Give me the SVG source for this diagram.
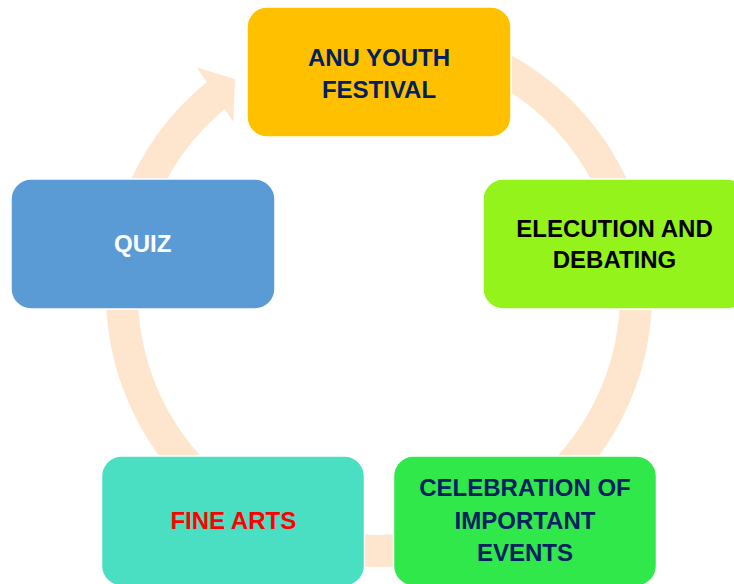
<svg xmlns="http://www.w3.org/2000/svg" width="734" height="584" viewBox="0 0 734 584">
<style>
.arc{fill:none;stroke:#FDE6CD;stroke-width:32;stroke-linecap:butt}
.head{fill:#FDE6CD;stroke:none}
.box{stroke:#FFFFFF;stroke-width:1.5}
.t{font-family:"Liberation Sans",Arial,sans-serif;font-weight:bold;font-size:24px;text-anchor:middle}
</style>
<rect width="734" height="584" fill="#FFFFFF"/>
<g id="connectors">
<path class="arc" d="M487.6 61.1 A257 257 0 0 1 620.5 206.1"/>
<path class="arc" d="M636 294 A257 257 0 0 1 560.7 475.7"/>
<path class="arc" d="M423.6 547.1 A257 257 0 0 1 334.4 547.1"/>
<path class="arc" d="M197.3 475.7 A257 257 0 0 1 123 271.6"/>
<path class="arc" d="M137.5 206.1 A257 257 0 0 1 217.3 94.3"/>
<polygon class="head" points="196.7,67.3 235,79.3 233.3,121.7"/>
</g>
<g id="node-anu-youth-festival">
<rect class="box" x="247" y="7" width="264" height="130" rx="20" fill="#FFC000"/>
<text class="t" fill="#002060" x="379" y="65.7">ANU YOUTH</text>
<text class="t" fill="#002060" x="379" y="97.7">FESTIVAL</text>
</g>
<g id="node-elecution-debating">
<rect class="box" x="483" y="179" width="264" height="130" rx="20" fill="#94F31B"/>
<text class="t" fill="#000000" x="614.5" y="236.7">ELECUTION AND</text>
<text class="t" fill="#000000" x="614.5" y="268.3">DEBATING</text>
</g>
<g id="node-celebration">
<rect class="box" x="393.5" y="456" width="263" height="130" rx="20" fill="#30E84A"/>
<text class="t" fill="#002060" x="525" y="496">CELEBRATION OF</text>
<text class="t" fill="#002060" x="525" y="528.5">IMPORTANT</text>
<text class="t" fill="#002060" x="525" y="561">EVENTS</text>
</g>
<g id="node-fine-arts">
<rect class="box" x="101.5" y="456" width="263" height="130" rx="20" fill="#4ADFC2"/>
<text class="t" fill="#FF0000" x="233.3" y="529.3">FINE ARTS</text>
</g>
<g id="node-quiz">
<rect class="box" x="11" y="179" width="264" height="130" rx="20" fill="#5B9BD5"/>
<text class="t" fill="#FFFFFF" x="142.7" y="251.5">QUIZ</text>
</g>
</svg>
